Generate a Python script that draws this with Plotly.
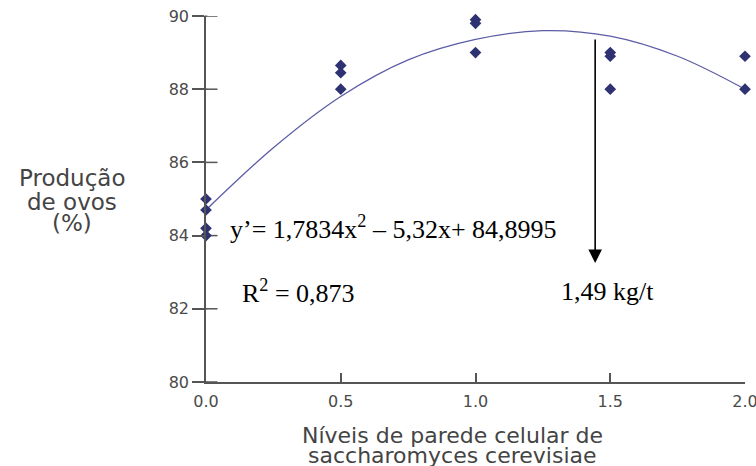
import plotly.graph_objects as go

obs_x = [0.0, 0.0, 0.0, 0.0, 0.5, 0.5, 0.5, 1.0, 1.0, 1.0, 1.5, 1.5, 1.5, 2.0, 2.0]
obs_y = [85.0, 84.7, 84.2, 84.0, 88.65, 88.45, 88.0, 89.9, 89.8, 89.0, 89.0, 88.9, 88.0, 88.9, 88.0]

# Fitted curve as drawn
curve_x = [0.0, 0.25, 0.5, 0.75, 1.0, 1.25, 1.5, 1.75, 2.0]
curve_y = [84.7, 86.4, 87.8, 88.8, 89.36, 89.6, 89.45, 88.9, 88.0]

x_ticks = [0.0, 0.5, 1.0, 1.5, 2.0]
x_ticklabels = ["0.0", "0.5", "1.0", "1.5", "2.0"]
y_ticks = [80, 82, 84, 86, 88, 90]

y_title_lines = ["Produção", "de ovos", "(%)"]
x_title_lines = ["Níveis de parede celular de", "saccharomyces cerevisiae"]

eq_text = "y’= 1,7834x<sup>2</sup> – 5,32x+ 84,8995"
r2_text = "R<sup>2</sup> = 0,873"
opt_text = "1,49 kg/t"
opt_x = 1.444
arrow_top = 89.4
arrow_tip = 83.25

axis_col = "#555555"
sans = "DejaVu Sans, Verdana, Arial, sans-serif"
tick_font = dict(family=sans, size=16, color="#4a4a4a")
title_font = dict(family=sans, size=23, color="#444444")
xtitle_font = dict(family=sans, size=22, color="#444444")

X_RANGE = [0, 2]
half_tick = 0.0426  # half length of the y-axis cross ticks, in x units (~11.5 px)

fig = go.Figure()
# y-axis tick marks that cross the axis line (both sides)
fig.add_trace(go.Scatter(x=[X_RANGE[0]] * len(y_ticks), y=y_ticks, mode="markers",
                         marker=dict(size=2, color=axis_col, symbol="line-ew-open",
                                     line=dict(width=0, color=axis_col)),
                         error_x=dict(type="data", symmetric=True, visible=True,
                                      array=[half_tick] * len(y_ticks),
                                      width=0, thickness=1.5, color=axis_col),
                         hoverinfo="skip", showlegend=False, cliponaxis=False))
fig.add_trace(go.Scatter(x=curve_x, y=curve_y, mode="lines",
                         line=dict(color="#5c5ca6", width=1.3, shape="spline", smoothing=1.0),
                         hoverinfo="skip", showlegend=False, cliponaxis=False))
fig.add_trace(go.Scatter(x=obs_x, y=obs_y, mode="markers",
                         marker=dict(symbol="diamond", size=9, color="#2f3272"),
                         showlegend=False, cliponaxis=False))

fig.update_layout(
    width=756, height=466,
    margin=dict(l=205.5, r=11, t=16, b=84, autoexpand=False),
    paper_bgcolor="white", plot_bgcolor="white",
    xaxis=dict(range=X_RANGE, tickvals=x_ticks, ticktext=x_ticklabels, automargin=False,
               showgrid=False, zeroline=False, showline=True, linecolor=axis_col, linewidth=1.5,
               ticks="inside", ticklen=9, tickwidth=1.5, tickcolor=axis_col, tickfont=tick_font,
               ticklabelstandoff=4, ticklabeloverflow="allow"),
    yaxis=dict(range=[80, 90], tickvals=y_ticks, showgrid=False, zeroline=False, automargin=False,
               showline=True, linecolor=axis_col, linewidth=1.5,
               ticks="outside", ticklen=12, tickwidth=1.5, tickcolor=axis_col, tickfont=tick_font,
               ticklabeloverflow="allow"),
    showlegend=False,
)

serif = dict(family="Liberation Serif, Times New Roman, serif", size=26, color="black")
fig.add_annotation(x=0.08, y=84.21, xref="x", yref="y", text=eq_text, showarrow=False,
                   xanchor="left", yanchor="middle", font=serif)
fig.add_annotation(x=0.127, y=82.48, xref="x", yref="y", text=r2_text, showarrow=False,
                   xanchor="left", yanchor="middle", font=serif)
fig.add_annotation(x=1.488, y=82.46, xref="x", yref="y", text=opt_text, showarrow=False,
                   xanchor="center", yanchor="middle", font=serif)
fig.add_annotation(x=opt_x, y=arrow_tip, ax=opt_x, ay=arrow_top, xref="x", yref="y",
                   axref="x", ayref="y", text="", showarrow=True, arrowhead=2,
                   arrowsize=1.7, arrowwidth=1.6, arrowcolor="black", standoff=0)

# axis titles, one annotation per line for the tight line spacing of the original
for line, yp in zip(y_title_lines, [0.557, 0.493, 0.434]):
    fig.add_annotation(x=-0.2493, y=yp, xref="paper", yref="paper", text=line,
                       showarrow=False, xanchor="center", yanchor="middle", font=title_font)
for line, yp in zip(x_title_lines, [-0.1475, -0.201]):
    fig.add_annotation(x=0.457, y=yp, xref="paper", yref="paper", text=line,
                       showarrow=False, xanchor="center", yanchor="middle", font=xtitle_font)

fig.write_html("out.html")
